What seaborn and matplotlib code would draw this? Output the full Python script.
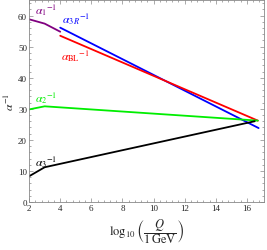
import numpy as np
import pandas as pd
import seaborn as sns
import matplotlib.pyplot as plt
from matplotlib.ticker import MultipleLocator

# curvas de acoplamiento inverso
x_a1 = [2.0, 3.0, 4.0]
y_a1 = [58.8, 57.4, 54.8]
x_a3R = [4.0, 16.75]
y_a3R = [56.1, 23.8]
x_aBL = [4.0, 16.7]
y_aBL = [53.5, 26.2]
x_a2 = [2.0, 3.0, 16.7]
y_a2 = [29.8, 30.8, 26.2]
x_a3 = [2.0, 3.0, 16.5]
y_a3 = [8.3, 11.2, 26.0]

curvas = [
    ('a1', x_a1, y_a1, '#800080', r'$\alpha_1{}^{-1}$', (2.4, 60.8)),
    ('a3R', x_a3R, y_a3R, '#0000ff', r'$\alpha_{3\,R}{}^{-1}$', (4.1, 57.8)),
    ('aBL', x_aBL, y_aBL, '#ff0000', r'$\alpha_{\mathrm{BL}}{}^{-1}$', (4.05, 45.8)),
    ('a2', x_a2, y_a2, '#00ee00', r'$\alpha_2{}^{-1}$', (2.4, 32.3)),
    ('a3', x_a3, y_a3, '#000000', r'$\alpha_3{}^{-1}$', (2.4, 11.6)),
]

sns.set_style("ticks")
plt.rcParams['font.family'] = ['Liberation Serif', 'DejaVu Serif']
plt.rcParams['mathtext.fontset'] = 'stix'

fig = plt.figure(figsize=(2.67, 2.51), dpi=100)
ax = fig.add_axes([0.109, 0.191, 0.880, 0.805])

for nombre, xs, ys, color, etiqueta, pos in curvas:
    df = pd.DataFrame({'x': xs, 'y': ys})
    sns.lineplot(data=df, x='x', y='y', color=color, linewidth=1.3, ax=ax, sort=False)
    ax.text(pos[0], pos[1], etiqueta, color=color, fontsize=8.5)

ax.set_xlim(2, 17.1)
ax.set_ylim(0, 65)
ax.xaxis.set_major_locator(MultipleLocator(2))
ax.xaxis.set_minor_locator(MultipleLocator(0.4))
ax.yaxis.set_major_locator(MultipleLocator(10))
ax.yaxis.set_minor_locator(MultipleLocator(2))
ax.tick_params(which='both', direction='in', top=True, right=True, color='#888888', labelsize=6.5, pad=1.5)
ax.tick_params(which='major', length=3, width=0.5)
ax.tick_params(which='minor', length=1.5, width=0.5)
for s in ax.spines.values():
    s.set_color('#888888')
    s.set_linewidth(0.6)

ax.set_xlabel(r'$\log_{10}\left(\dfrac{Q}{1\,\mathrm{GeV}}\right)$', fontsize=9, labelpad=3)
ax.set_ylabel(r'$\alpha^{-1}$', fontsize=8.5, labelpad=1)

plt.savefig('out.png', dpi=100)
